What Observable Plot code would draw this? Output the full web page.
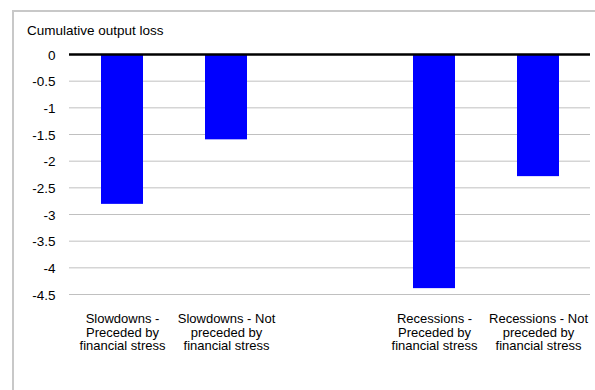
<!DOCTYPE html>
<html>
<head>
<meta charset="utf-8">
<script src="https://cdn.jsdelivr.net/npm/d3@7"></script>
<script src="https://cdn.jsdelivr.net/npm/@observablehq/plot@0.6"></script>
<style>
  html, body { margin: 0; padding: 0; background: #fff; }
  #wrap { position: relative; width: 595px; height: 390px; overflow: hidden; font-family: "Liberation Sans", Arial, sans-serif; }
  #frame { position: absolute; left: 12px; top: 10px; width: 600px; height: 400px; border-left: 2px solid #c8c8c8; border-top: 2px solid #c8c8c8; box-sizing: border-box; }
  #ylabel { position: absolute; left: 27px; top: 23px; font-size: 13.5px; line-height: 16px; color: #000; }
  #chart { position: absolute; left: 0; top: 0; }
</style>
</head>
<body>
<div id="wrap">
  <div id="frame"></div>
  <div id="ylabel">Cumulative output loss</div>
  <div id="chart"></div>
</div>
<script>
const categories = [
  "Slowdowns - Preceded by financial stress",
  "Slowdowns - Not preceded by financial stress",
  "gap",
  "Recessions - Preceded by financial stress",
  "Recessions - Not preceded by financial stress"
];
const barCategories = [
  "Slowdowns - Preceded by financial stress",
  "Slowdowns - Not preceded by financial stress",
  "Recessions - Preceded by financial stress",
  "Recessions - Not preceded by financial stress"
];
const values = [-2.81, -1.6, -4.39, -2.29];
const labels = [
  "Slowdowns -\nPreceded by\nfinancial stress",
  "Slowdowns - Not\npreceded by\nfinancial stress",
  "Recessions -\nPreceded by\nfinancial stress",
  "Recessions - Not\npreceded by\nfinancial stress"
];
const yTicks = [0, -0.5, -1, -1.5, -2, -2.5, -3, -3.5, -4, -4.5];
const yDomain = [-4.5, 0];

const data = barCategories.map((c, i) => ({category: c, value: values[i], label: labels[i]}));

const font = "'Liberation Sans', Arial, sans-serif";

const chart = Plot.plot({
  width: 595,
  height: 390,
  marginTop: 54,
  marginBottom: 96,
  marginLeft: 69,
  marginRight: 5,
  style: {fontFamily: font, fontSize: "13px", background: "transparent", color: "#000"},
  x: {domain: categories, paddingInner: 0.6, paddingOuter: 0.3, axis: null},
  y: {domain: yDomain, axis: null},
  marks: [
    Plot.ruleY(yTicks.filter(d => d !== 0), {stroke: "#c0c0c0", strokeWidth: 1}),
    Plot.barY(data, {x: "category", y: "value", fill: "#0000ff"}),
    Plot.ruleY([0], {stroke: "#000", strokeWidth: 2.5}),
    Plot.axisY({ticks: yTicks, tickFormat: d => String(d), tickSize: 0, tickPadding: 14, label: null, fontSize: 13.5, dy: 1}),
    Plot.text(data, {x: "category", y: () => yDomain[0], text: "label", lineAnchor: "top", dy: 19, lineHeight: 1.04, fontSize: 13, fill: "#000"})
  ]
});
document.getElementById("chart").appendChild(chart);
</script>
</body>
</html>
